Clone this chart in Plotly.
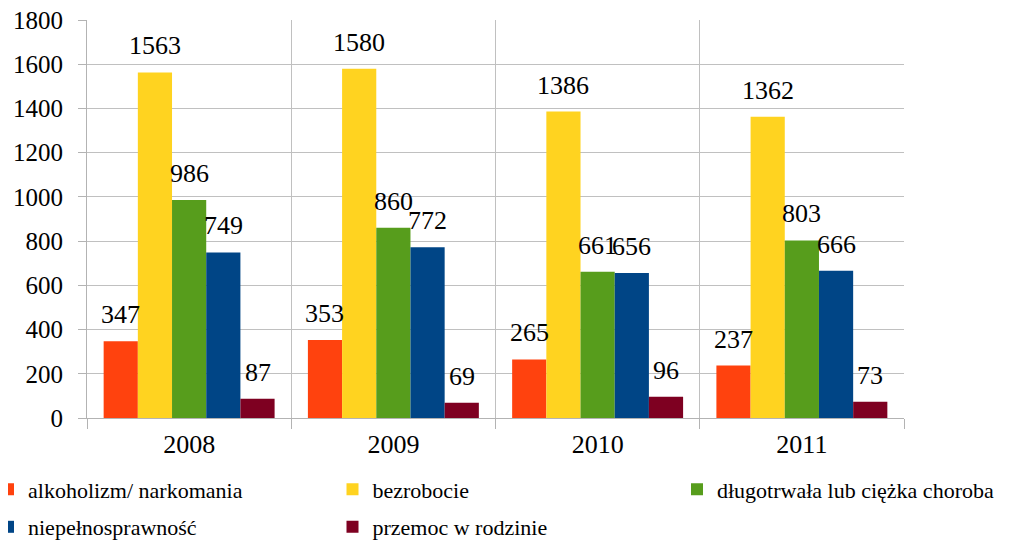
import plotly.graph_objects as go

years = ["2008", "2009", "2010", "2011"]
series_names = [
    "alkoholizm/ narkomania",
    "bezrobocie",
    "długotrwała lub ciężka choroba",
    "niepełnosprawność",
    "przemoc w rodzinie",
]
alkoholizm = [347, 353, 265, 237]
bezrobocie = [1563, 1580, 1386, 1362]
choroba = [986, 860, 661, 803]
niepelnosprawnosc = [749, 772, 656, 666]
przemoc = [87, 69, 96, 73]
y_ticks = [0, 200, 400, 600, 800, 1000, 1200, 1400, 1600, 1800]

values = [alkoholizm, bezrobocie, choroba, niepelnosprawnosc, przemoc]
colors = ["#FF420E", "#FFD320", "#579D1C", "#004586", "#7E0021"]
legend_ids = ["legend", "legend2", "legend3", "legend4", "legend5"]

# the page body adds an 8px offset, so the figure is drawn 8px smaller
OFF = 8
W, H = 1024 - OFF, 541 - OFF
ML, MR, MT, MB = 87 - OFF, 120, 20 - OFF, 123
BARGAP = 0.163
FONT = "Liberation Serif"

fig = go.Figure()
for name, vals, col, lg in zip(series_names, values, colors, legend_ids):
    fig.add_trace(go.Bar(x=years, y=vals, name=name, legend=lg,
                         marker=dict(color=col, line=dict(width=0))))

plot_w = W - ML - MR
plot_h = H - MT - MB
bar_px = plot_w / len(years) * (1 - BARGAP) / len(series_names)
annotations = []
for k, vals in enumerate(values):
    for i, v in enumerate(vals):
        annotations.append(dict(
            x=i, y=v, xref="x", yref="y", text=str(v), showarrow=False,
            xshift=(k - (len(series_names) - 1) / 2) * bar_px,
            yanchor="bottom", yshift=10,
            font=dict(family=FONT, size=26, color="#000000"),
        ))

leg_common = dict(
    orientation="h", xanchor="left", yanchor="middle",
    font=dict(family=FONT, size=22, color="#000000"),
    itemwidth=30, bgcolor="rgba(0,0,0,0)",
)
leg_left = [-12, 332.5, 677, -12, 332.5]
leg_row = [489.5, 489.5, 489.5, 527, 527]

legends = {}
for lg, lx, ly in zip(legend_ids, leg_left, leg_row):
    legends[lg] = dict(
        x=(lx - OFF - ML) / plot_w,
        y=-((ly - OFF) - (MT + plot_h)) / plot_h,
        **leg_common,
    )

fig.update_layout(
    width=W, height=H,
    margin=dict(l=ML, r=MR, t=MT, b=MB, pad=0, autoexpand=False),
    paper_bgcolor="white", plot_bgcolor="white",
    barmode="group", bargap=BARGAP, bargroupgap=0,
    font=dict(family=FONT, size=24, color="#000000"),
    annotations=annotations,
    showlegend=True,
    **legends,
)
fig.update_xaxes(
    type="category", range=[-0.5, len(years) - 0.5], tickson="boundaries",
    showgrid=True, gridcolor="#C0C0C0", gridwidth=1,
    showline=True, linecolor="#B3B3B3", linewidth=1,
    ticks="outside", ticklen=10, tickcolor="#B3B3B3", tickangle=0,
    tickfont=dict(family=FONT, size=26, color="#000000"), ticklabelstandoff=3,
    ticklabeloverflow="allow", fixedrange=True, mirror=False,
)
fig.update_yaxes(
    range=[0, 1800], tickvals=y_ticks, showgrid=True, gridcolor="#C0C0C0", gridwidth=1,
    showline=True, linecolor="#B3B3B3", linewidth=1,
    ticks="outside", ticklen=8, tickcolor="#B3B3B3",
    tickfont=dict(family=FONT, size=25, color="#000000"), ticklabelstandoff=10,
    ticklabeloverflow="allow", zeroline=False, fixedrange=True,
)

fig.write_html("out.html")
